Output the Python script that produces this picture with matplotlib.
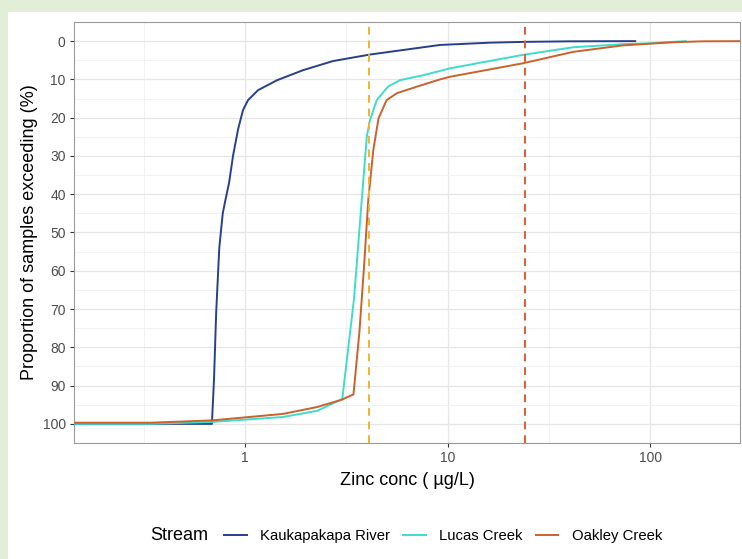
import matplotlib
matplotlib.use("Agg")
import matplotlib.pyplot as plt
from matplotlib.lines import Line2D
from matplotlib.patches import Rectangle
from matplotlib.ticker import FixedLocator, NullFormatter

plt.rcParams["font.family"] = ["Liberation Sans", "DejaVu Sans"]

# exceedance curves (zinc conc in ug/L, % of samples exceeding)
kauka_x = [0.12, 0.686, 0.703, 0.72, 0.746, 0.776, 0.80, 0.834, 0.872, 0.924,
           0.977, 1.035, 1.16, 1.44, 1.93, 2.72, 4.14, 9.17, 16.2, 23.5, 40.0, 84.4]
kauka_y = [100, 100, 88, 71, 54, 45, 41.5, 37, 30, 23,
           18, 15.4, 12.8, 10.2, 7.6, 5.2, 3.5, 1.0, 0.4, 0.2, 0.05, 0]

lucas_x = [0.12, 0.34, 0.686, 1.54, 2.27, 3.02, 3.45, 3.77, 3.99, 4.14, 4.47,
           5.08, 5.82, 7.58, 10.3, 23.5, 41.7, 73.6, 96.0, 150.0]
lucas_y = [100, 100, 99.5, 98.2, 96.6, 93.5, 67.4, 41.4, 25.0, 20.6, 15.4,
           11.9, 10.2, 8.9, 7.1, 3.6, 1.6, 0.8, 0.6, 0]

oakley_x = [0.12, 0.34, 0.686, 1.54, 2.27, 3.0, 3.43, 3.67, 3.87, 4.06, 4.3,
            4.56, 5.0, 5.62, 7.05, 9.17, 10.3, 23.5, 41.7, 73.6, 130.0, 180.0, 300.0]
oakley_y = [99.7, 99.7, 99.1, 97.4, 95.6, 93.7, 92.3, 76.0, 58.8, 41.4, 28.4,
            20.2, 15.4, 13.6, 11.9, 10.0, 9.3, 5.8, 2.8, 1.1, 0.3, 0.05, 0]

streams = ["Kaukapakapa River", "Lucas Creek", "Oakley Creek"]
colors = ["#283f8a", "#3fdccb", "#c9622b"]

guideline_low = 4.1
guideline_high = 24.0

W, H = 742, 559
fig = plt.figure(figsize=(W / 100, H / 100), dpi=100)
fig.patch.set_facecolor("#e2eed8")
fig.patches.append(Rectangle((8 / W, 0), 1 - 8 / W, 1 - 12 / H,
                             transform=fig.transFigure, facecolor="white",
                             edgecolor="none", zorder=-10))

ax = fig.add_axes([74 / W, 1 - 443 / H, (740 - 74) / W, (443 - 22) / H])
ax.set_zorder(5)

for xs, ys, c, name in zip([kauka_x, lucas_x, oakley_x],
                           [kauka_y, lucas_y, oakley_y], colors, streams):
    ax.plot(xs, ys, color=c, lw=1.4, label=name, zorder=3)

ax.axvline(guideline_low, color="#f0b232", lw=1.4, ls=(0, (4, 3)), zorder=4)
ax.axvline(guideline_high, color="#dc5d38", lw=1.4, ls=(0, (4, 3)), zorder=4)

ax.set_xscale("log")
ax.set_xlim(0.143, 278)
ax.set_ylim(105, -5)

ax.xaxis.set_major_locator(FixedLocator([1, 10, 100]))
ax.set_xticklabels(["1", "10", "100"])
ax.xaxis.set_minor_locator(FixedLocator([10 ** -0.5, 10 ** 0.5, 10 ** 1.5]))
ax.xaxis.set_minor_formatter(NullFormatter())
ax.set_yticks(range(0, 101, 10))
ax.yaxis.set_minor_locator(FixedLocator(range(5, 100, 10)))

ax.grid(True, which="major", color="#e6e6e6", lw=0.9, zorder=0)
ax.grid(True, which="minor", color="#f0f0f0", lw=0.6, zorder=0)
ax.set_axisbelow(True)

ax.tick_params(which="major", length=3, width=0.8, color="#333333",
               labelsize=10, labelcolor="#4d4d4d", pad=3)
ax.tick_params(which="minor", length=0)
for s in ax.spines.values():
    s.set_color("#9a9a9a")
    s.set_linewidth(0.8)

ax.set_xlabel("Zinc conc ( \u00b5g/L)", fontsize=13, labelpad=5)
ax.set_ylabel("Proportion of samples exceeding (%)", fontsize=13, labelpad=3)

handles = [Line2D([], [], color=c, lw=1.4) for c in colors]
fig.text(150 / W, 1 - 536 / H, "Stream", fontsize=13, va="center", ha="left")
fig.legend(handles, streams, loc="center left", ncol=3,
           bbox_to_anchor=(211 / W, 1 - 536 / H), frameon=False,
           fontsize=10.7, handlelength=1.5, handletextpad=0.9, columnspacing=0.9)

fig.savefig("out.png", dpi=100, facecolor=fig.get_facecolor())
